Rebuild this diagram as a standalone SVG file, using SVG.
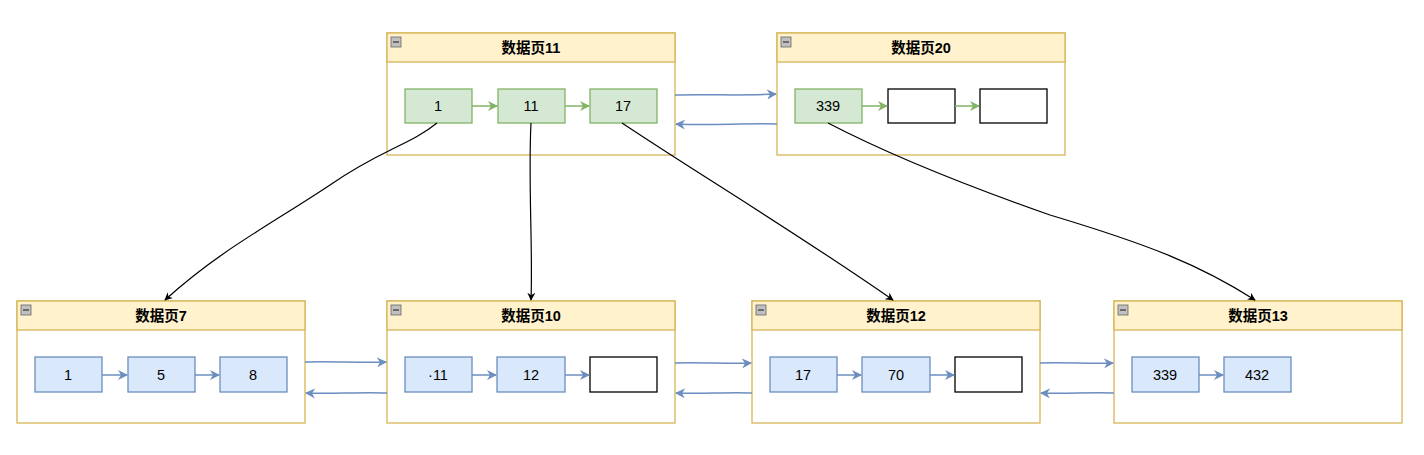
<svg xmlns="http://www.w3.org/2000/svg" width="1424" height="455" viewBox="0 0 1424 455">
<defs>
<marker id="ab" viewBox="0 0 10 10" refX="9" refY="5" markerWidth="8" markerHeight="8" orient="auto" markerUnits="userSpaceOnUse"><path d="M0,0 L10,5 L0,10 L3,5 z" fill="#000"/></marker>
<marker id="ablue" viewBox="0 0 10 10" refX="9" refY="5" markerWidth="10" markerHeight="10" orient="auto" markerUnits="userSpaceOnUse"><path d="M0,0 L10,5 L0,10 L3,5 z" fill="#6c8ebf"/></marker>
<marker id="agreen" viewBox="0 0 10 10" refX="9" refY="5" markerWidth="10" markerHeight="10" orient="auto" markerUnits="userSpaceOnUse"><path d="M0,0 L10,5 L0,10 L3,5 z" fill="#82b366"/></marker>
</defs>
<style>
.page{fill:#fff;stroke:#d6b656;stroke-width:1.3}
.hdr{fill:#fff2cc;stroke:#d6b656;stroke-width:1.3}
.title{font-family:"Liberation Sans","Noto Sans CJK SC",sans-serif;font-size:14.5px;font-weight:bold;fill:#000;text-anchor:middle}
.icon{fill:#c0c0c0;stroke:#666;stroke-width:0.8}
.g{fill:#d5e8d4;stroke:#82b366;stroke-width:1.3}
.b{fill:#dae8fc;stroke:#6c8ebf;stroke-width:1.3}
.w{fill:#fff;stroke:#000;stroke-width:1.3}
.t{font-family:"Liberation Sans",Arial,sans-serif;font-size:14.5px;fill:#000;text-anchor:middle}
.gl{stroke:#82b366;stroke-width:1.5;fill:none;marker-end:url(#agreen)}
.bl{stroke:#6c8ebf;stroke-width:1.5;fill:none;marker-end:url(#ablue)}
.kl{stroke:#000;stroke-width:1.2;fill:none;marker-end:url(#ab)}
</style>

<g id="page11">
<rect class="page" x="387" y="33" width="288" height="122"/>
<rect class="hdr" x="387" y="33" width="288" height="29"/>
<rect class="icon" x="391" y="37" width="10" height="10"/><line x1="393" y1="42" x2="399" y2="42" stroke="#333" stroke-width="1.2"/>
<text class="title" x="531" y="53">数据页11</text>
<rect class="g" x="405" y="89" width="67" height="34"/><text class="t" x="438" y="111">1</text>
<rect class="g" x="498" y="89" width="67" height="34"/><text class="t" x="531" y="111">11</text>
<rect class="g" x="590" y="89" width="67" height="34"/><text class="t" x="623" y="111">17</text>
<line class="gl" x1="472" y1="106" x2="497" y2="106"/>
<line class="gl" x1="565" y1="106" x2="589" y2="106"/>
</g>

<g id="page20">
<rect class="page" x="777" y="33" width="288" height="122"/>
<rect class="hdr" x="777" y="33" width="288" height="29"/>
<rect class="icon" x="781" y="37" width="10" height="10"/><line x1="783" y1="42" x2="789" y2="42" stroke="#333" stroke-width="1.2"/>
<text class="title" x="921" y="53">数据页20</text>
<rect class="g" x="795" y="89" width="67" height="34"/><text class="t" x="828" y="111">339</text>
<rect class="w" x="888" y="89" width="67" height="34"/>
<rect class="w" x="980" y="89" width="67" height="34"/>
<line class="gl" x1="862" y1="106" x2="887" y2="106"/>
<line class="gl" x1="955" y1="106" x2="979" y2="106"/>
</g>

<g id="page7">
<rect class="page" x="17" y="301" width="288" height="122"/>
<rect class="hdr" x="17" y="301" width="288" height="29"/>
<rect class="icon" x="21" y="305" width="10" height="10"/><line x1="23" y1="310" x2="29" y2="310" stroke="#333" stroke-width="1.2"/>
<text class="title" x="161" y="321">数据页7</text>
<rect class="b" x="35" y="357" width="67" height="35"/><text class="t" x="68" y="380">1</text>
<rect class="b" x="128" y="357" width="67" height="35"/><text class="t" x="161" y="380">5</text>
<rect class="b" x="220" y="357" width="67" height="35"/><text class="t" x="253" y="380">8</text>
<line class="bl" x1="102" y1="375" x2="127" y2="375"/>
<line class="bl" x1="195" y1="375" x2="219" y2="375"/>
</g>

<g id="page10">
<rect class="page" x="387" y="301" width="288" height="122"/>
<rect class="hdr" x="387" y="301" width="288" height="29"/>
<rect class="icon" x="391" y="305" width="10" height="10"/><line x1="393" y1="310" x2="399" y2="310" stroke="#333" stroke-width="1.2"/>
<text class="title" x="531" y="321">数据页10</text>
<rect class="b" x="405" y="357" width="67" height="35"/><text class="t" x="438" y="380">·11</text>
<rect class="b" x="497" y="357" width="68" height="35"/><text class="t" x="531" y="380">12</text>
<rect class="w" x="590" y="357" width="67" height="35"/>
<line class="bl" x1="472" y1="375" x2="496" y2="375"/>
<line class="bl" x1="565" y1="375" x2="589" y2="375"/>
</g>

<g id="page12">
<rect class="page" x="752" y="301" width="288" height="122"/>
<rect class="hdr" x="752" y="301" width="288" height="29"/>
<rect class="icon" x="756" y="305" width="10" height="10"/><line x1="758" y1="310" x2="764" y2="310" stroke="#333" stroke-width="1.2"/>
<text class="title" x="896" y="321">数据页12</text>
<rect class="b" x="770" y="357" width="67" height="35"/><text class="t" x="803" y="380">17</text>
<rect class="b" x="862" y="357" width="68" height="35"/><text class="t" x="896" y="380">70</text>
<rect class="w" x="955" y="357" width="67" height="35"/>
<line class="bl" x1="837" y1="375" x2="861" y2="375"/>
<line class="bl" x1="930" y1="375" x2="954" y2="375"/>
</g>

<g id="page13">
<rect class="page" x="1114" y="301" width="288" height="122"/>
<rect class="hdr" x="1114" y="301" width="288" height="29"/>
<rect class="icon" x="1118" y="305" width="10" height="10"/><line x1="1120" y1="310" x2="1126" y2="310" stroke="#333" stroke-width="1.2"/>
<text class="title" x="1258" y="321">数据页13</text>
<rect class="b" x="1132" y="357" width="67" height="35"/><text class="t" x="1165" y="380">339</text>
<rect class="b" x="1224" y="357" width="67" height="35"/><text class="t" x="1257" y="380">432</text>
<line class="bl" x1="1199" y1="375" x2="1223" y2="375"/>
</g>

<g id="connectors">
<path class="bl" d="M675,95 C710,94 740,96 776,94"/>
<path class="bl" d="M777,124 C740,123 710,126 676,124"/>
<path class="bl" d="M305,362 C330,361 360,363 386,362"/>
<path class="bl" d="M387,393 C360,392 330,394 306,393"/>
<path class="bl" d="M675,363 C700,362 730,364 751,363"/>
<path class="bl" d="M752,393 C730,392 700,394 676,393"/>
<path class="bl" d="M1040,363 C1065,362 1090,364 1113,363"/>
<path class="bl" d="M1114,393 C1090,392 1065,394 1041,393"/>
<path class="kl" d="M437,123 C410,145 380,150 330,185 C270,225 220,250 165,300"/>
<path class="kl" d="M531,123 C528,180 533,250 531,300"/>
<path class="kl" d="M622,123 C700,175 800,235 893,300"/>
<path class="kl" d="M828,123 C880,150 950,180 1050,215 C1150,245 1200,265 1255,300"/>
</g>
</svg>
